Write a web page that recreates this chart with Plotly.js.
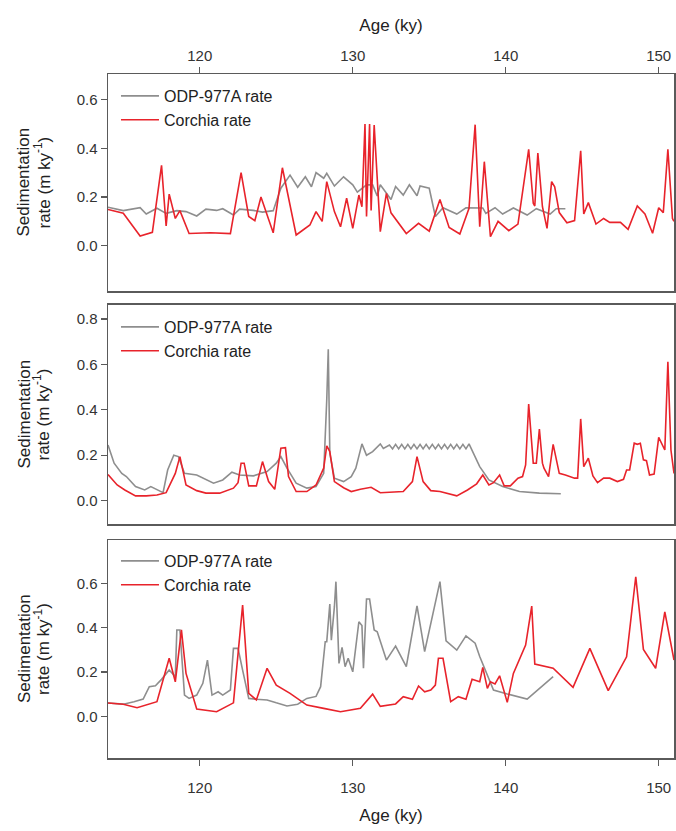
<!DOCTYPE html>
<html>
<head>
<meta charset="utf-8">
<script src="https://cdn.plot.ly/plotly-3.0.1.min.js"></script>
<style>html,body{margin:0;padding:0;background:#fff;}#chart{width:676px;height:831px;}</style>
</head>
<body>
<div id="chart"></div>
<script>
// ---------- Panel 1 (top) ----------
var p1OdpAge = [114.0,115.0,116.1,116.5,117.2,117.8,118.5,119.1,119.8,120.4,121.1,121.5,122.2,122.6,123.5,124.1,124.8,125.3,125.9,126.4,126.9,127.3,127.6,128.1,128.3,128.8,129.4,130.0,130.3,130.9,131.3,131.6,131.8,132.5,132.8,133.3,133.7,134.2,134.4,135.0,135.4,135.9,136.8,137.4,138.5,138.7,139.3,139.8,140.5,141.4,142.0,142.9,143.3,143.9];
var p1OdpRate = [0.158,0.144,0.156,0.13,0.154,0.133,0.144,0.14,0.122,0.15,0.145,0.152,0.126,0.15,0.145,0.138,0.144,0.236,0.29,0.24,0.283,0.242,0.30,0.277,0.297,0.245,0.283,0.25,0.22,0.25,0.25,0.204,0.25,0.19,0.243,0.208,0.25,0.205,0.245,0.236,0.12,0.156,0.13,0.156,0.155,0.133,0.156,0.13,0.155,0.126,0.152,0.13,0.152,0.152];
var p1CorAge = [114.0,115.0,116.1,116.9,117.5,117.8,118.0,118.4,118.7,119.3,120.7,122.0,122.7,123.2,123.6,124.0,124.8,125.4,126.3,127.2,127.6,128.0,128.3,128.8,129.2,129.6,130.0,130.4,130.6,130.8,130.9,131.1,131.2,131.4,131.8,132.2,132.5,133.5,134.3,135.0,135.7,136.3,137.0,137.6,138.0,138.3,138.6,139.0,139.5,140.2,140.8,141.5,141.8,141.9,142.1,142.4,142.7,143.0,143.2,143.5,144.0,144.5,144.9,145.1,145.4,145.9,146.4,146.8,147.5,148.0,148.6,149.1,149.6,150.0,150.3,150.6,150.9,151.0];
var p1CorRate = [0.149,0.133,0.04,0.055,0.33,0.081,0.212,0.112,0.144,0.05,0.053,0.05,0.30,0.12,0.103,0.20,0.053,0.32,0.044,0.085,0.14,0.10,0.263,0.14,0.078,0.195,0.071,0.208,0.16,0.50,0.12,0.50,0.145,0.495,0.058,0.215,0.135,0.05,0.092,0.06,0.19,0.075,0.048,0.154,0.497,0.078,0.345,0.037,0.10,0.062,0.089,0.396,0.174,0.163,0.38,0.16,0.071,0.263,0.242,0.136,0.094,0.103,0.39,0.13,0.177,0.089,0.112,0.096,0.096,0.067,0.163,0.13,0.051,0.156,0.136,0.396,0.112,0.10];

// ---------- Panel 2 (middle) ----------
var p2OdpAge = [114.0,114.4,114.9,115.2,115.8,116.4,116.8,117.2,117.6,117.9,118.3,118.6,119.0,119.8,120.9,121.5,122.1,122.6,123.5,124.4,125.0,125.3,125.7,126.3,127.0,127.6,128.1,128.3,128.4,128.5,128.8,129.4,129.9,130.2,130.6,130.9,131.3,131.8,132.0,132.4,132.6,132.8,133.0,133.2,133.4,133.6,133.8,134.0,134.2,134.4,134.6,134.8,135.0,135.2,135.4,135.6,135.8,136.0,136.2,136.4,136.6,136.8,137.0,137.2,137.4,137.6,138.3,138.9,139.8,140.9,142.2,143.6];
var p2OdpRate = [0.245,0.165,0.12,0.106,0.062,0.047,0.062,0.05,0.035,0.135,0.20,0.194,0.12,0.113,0.077,0.091,0.125,0.113,0.109,0.128,0.165,0.194,0.143,0.077,0.055,0.062,0.12,0.444,0.667,0.209,0.099,0.084,0.106,0.143,0.25,0.20,0.216,0.25,0.23,0.245,0.228,0.248,0.228,0.248,0.228,0.248,0.228,0.248,0.228,0.248,0.228,0.248,0.228,0.248,0.228,0.248,0.228,0.248,0.228,0.248,0.228,0.248,0.228,0.248,0.228,0.25,0.15,0.091,0.062,0.04,0.033,0.03];
var p2CorAge = [114.0,114.6,115.1,115.8,116.5,117.2,117.8,118.4,118.7,119.1,119.8,120.4,121.3,122.2,122.5,122.7,122.9,123.2,123.7,124.1,124.5,124.9,125.3,125.6,125.8,126.3,127.0,127.6,128.1,128.3,128.5,128.8,129.4,129.9,130.5,131.2,131.8,133.3,133.9,134.2,134.6,135.1,135.7,136.8,137.5,138.1,138.5,138.9,139.2,139.6,139.9,140.3,140.8,141.1,141.3,141.5,141.8,142.0,142.2,142.4,142.5,142.8,143.1,143.5,143.9,144.5,144.7,144.9,145.1,145.4,145.7,146.0,146.4,146.8,147.3,147.7,147.9,148.1,148.4,148.6,148.8,149.0,149.2,149.4,149.7,150.0,150.4,150.6,150.8,151.0];
var p2CorRate = [0.115,0.069,0.047,0.021,0.021,0.025,0.035,0.12,0.194,0.069,0.044,0.033,0.033,0.055,0.079,0.165,0.165,0.065,0.065,0.172,0.084,0.05,0.231,0.233,0.106,0.04,0.04,0.069,0.143,0.241,0.216,0.084,0.057,0.04,0.05,0.059,0.035,0.04,0.084,0.194,0.084,0.044,0.04,0.021,0.047,0.074,0.113,0.069,0.079,0.113,0.065,0.065,0.099,0.106,0.157,0.426,0.165,0.165,0.315,0.165,0.143,0.106,0.248,0.12,0.113,0.099,0.099,0.36,0.15,0.187,0.109,0.079,0.099,0.099,0.084,0.094,0.135,0.135,0.253,0.248,0.253,0.18,0.176,0.113,0.117,0.279,0.223,0.612,0.223,0.12];

// ---------- Panel 3 (bottom) ----------
var p3OdpAge = [114.0,115.0,115.7,116.3,116.7,117.1,117.5,118.0,118.4,118.5,118.7,119.0,119.3,119.8,120.2,120.5,120.8,121.2,121.5,122.0,122.2,122.5,122.8,123.2,123.7,124.4,125.0,125.7,126.4,127.0,127.6,127.9,128.2,128.3,128.5,128.6,128.8,128.9,129.1,129.3,129.5,129.7,130.0,130.4,130.6,130.7,130.9,131.1,131.4,131.6,132.2,132.8,133.5,134.2,134.7,135.7,136.1,136.8,137.4,138.0,138.3,139.2,140.1,141.4,143.1];
var p3OdpRate = [0.06,0.055,0.066,0.078,0.134,0.138,0.167,0.209,0.179,0.39,0.39,0.096,0.081,0.096,0.149,0.254,0.096,0.111,0.096,0.119,0.307,0.307,0.209,0.081,0.077,0.074,0.061,0.047,0.055,0.081,0.09,0.134,0.337,0.337,0.507,0.344,0.495,0.608,0.239,0.311,0.224,0.262,0.201,0.427,0.41,0.217,0.53,0.53,0.39,0.382,0.254,0.317,0.224,0.499,0.292,0.608,0.341,0.299,0.363,0.33,0.27,0.119,0.101,0.078,0.179];
var p3CorAge = [114.0,115.0,115.9,116.5,117.2,118.0,118.4,118.8,119.1,119.8,121.1,122.2,122.8,123.2,123.7,124.4,125.0,125.9,127.0,128.1,129.2,130.5,131.3,131.8,132.8,133.3,133.9,134.3,134.7,135.1,135.4,135.6,135.9,136.4,136.9,137.4,137.8,138.3,138.5,138.8,139.0,139.3,139.6,140.1,140.5,141.3,141.7,141.9,143.1,144.4,145.5,146.7,147.9,148.5,149.0,149.8,150.4,151.0];
var p3CorRate = [0.06,0.055,0.039,0.051,0.066,0.262,0.156,0.39,0.194,0.033,0.021,0.061,0.502,0.104,0.074,0.217,0.141,0.104,0.051,0.036,0.021,0.036,0.10,0.045,0.056,0.089,0.077,0.137,0.111,0.119,0.141,0.262,0.262,0.066,0.089,0.077,0.167,0.156,0.221,0.126,0.156,0.146,0.183,0.063,0.194,0.322,0.498,0.236,0.217,0.131,0.307,0.116,0.269,0.63,0.302,0.217,0.472,0.254];

var seriesNames = ['ODP-977A rate', 'Corchia rate'];
var xTicks = [120, 130, 140, 150];
var yTicks1 = [0.0, 0.2, 0.4, 0.6];
var yTicks2 = [0.0, 0.2, 0.4, 0.6, 0.8];
var yTicks3 = [0.0, 0.2, 0.4, 0.6];
var xLabel = 'Age (ky)';
var yLabelLine1 = 'Sedimentation';
var yLabelLine2 = 'rate (m ky<sup>-1</sup>)';

var GRAY = '#8e8e8e', RED = '#e8232b';
var FONT = 'Liberation Sans, Arial, sans-serif';

function tr(x, y, name, color, xa, ya, lg) {
  return {x: x, y: y, name: name, type: 'scatter', mode: 'lines',
    line: {color: color, width: 1.6}, xaxis: xa, yaxis: ya, legend: lg, hoverinfo: 'skip'};
}
var data = [
  tr(p1OdpAge, p1OdpRate, seriesNames[0], GRAY, 'x', 'y', 'legend'),
  tr(p1CorAge, p1CorRate, seriesNames[1], RED, 'x', 'y', 'legend'),
  tr(p2OdpAge, p2OdpRate, seriesNames[0], GRAY, 'x2', 'y2', 'legend2'),
  tr(p2CorAge, p2CorRate, seriesNames[1], RED, 'x2', 'y2', 'legend2'),
  tr(p3OdpAge, p3OdpRate, seriesNames[0], GRAY, 'x3', 'y3', 'legend3'),
  tr(p3CorAge, p3CorRate, seriesNames[1], RED, 'x3', 'y3', 'legend3')
];

var LINE = '#5a5a5a';
function xax(anchor, opts) {
  return Object.assign({anchor: anchor, domain: [0, 1], range: [114, 151], showgrid: false, zeroline: false,
    showline: true, linecolor: LINE, linewidth: 1.5, mirror: true, tickvals: xTicks,
    ticklen: 6, tickwidth: 1.2, tickcolor: LINE,
    tickfont: {family: FONT, size: 15, color: '#333'}}, opts);
}
function yax(anchor, domain, range, ticks) {
  return {anchor: anchor, domain: domain, range: range, showgrid: false, zeroline: false,
    showline: true, linecolor: LINE, linewidth: 1.5, mirror: true, tickvals: ticks,
    tickformat: '.1f', ticks: 'outside', ticklen: 6, tickwidth: 1.2, tickcolor: LINE,
    tickfont: {family: FONT, size: 15, color: '#333'}};
}
var d1 = [0.6827, 1], d2 = [0.3421, 0.6623], d3 = [0, 0.3187];
function legendAt(y) {
  return {x: 0.0141, y: y, xanchor: 'left', yanchor: 'top', bgcolor: 'rgba(0,0,0,0)', borderwidth: 0,
    itemwidth: 38, font: {family: FONT, size: 16, color: '#222'}, tracegroupgap: 0};
}
function ann(x, y, text) {
  return {xref: 'paper', yref: 'paper', x: x, y: y, text: text, showarrow: false, textangle: -90,
    xanchor: 'center', yanchor: 'middle', font: {family: FONT, size: 17, color: '#222'}};
}
var annotations = [];
[d1, d2, d3].forEach(function (d) {
  var yc = (d[0] + d[1]) / 2;
  annotations.push(ann(-0.1484, yc, yLabelLine1));
  annotations.push(ann(-0.1166, yc, yLabelLine2));
});

var layout = {
  width: 676, height: 831,
  margin: {l: 108, r: 2, t: 74, b: 73},
  paper_bgcolor: '#fff', plot_bgcolor: '#fff',
  font: {family: FONT, color: '#222'},
  showlegend: true,
  xaxis: xax('y', {side: 'top', ticks: 'outside', title: {text: xLabel, standoff: 10, font: {family: FONT, size: 17, color: '#222'}}}),
  xaxis2: xax('y2', {ticks: '', showticklabels: false}),
  xaxis3: xax('y3', {side: 'bottom', ticks: 'outside', ticklabelstandoff: 9,
    title: {text: xLabel, standoff: 14, font: {family: FONT, size: 17, color: '#222'}}}),
  yaxis: yax('x', d1, [-0.186, 0.705], yTicks1),
  yaxis2: yax('x2', d2, [-0.103, 0.862], yTicks2),
  yaxis3: yax('x3', d3, [-0.188, 0.796], yTicks3),
  legend: legendAt(0.9927),
  legend2: legendAt(0.6550),
  legend3: legendAt(0.3129),
  annotations: annotations
};
Plotly.newPlot('chart', data, layout, {displayModeBar: false, staticPlot: true});
</script>
</body>
</html>
